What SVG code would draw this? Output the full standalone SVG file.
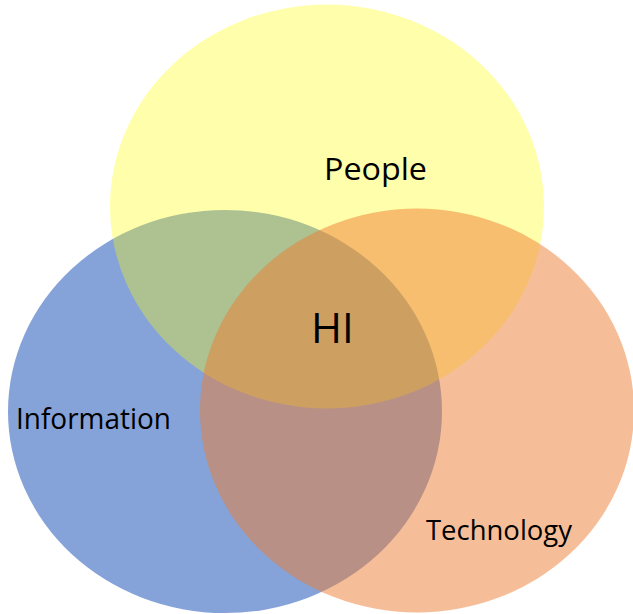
<svg xmlns="http://www.w3.org/2000/svg" width="633" height="614" viewBox="0 0 633 614">
  <style>
    .lbl { font-family: "Open Sans", "Liberation Sans", sans-serif; fill: #000; }
  </style>
  <rect width="633" height="614" fill="#fff"/>
  <!-- Three translucent sets: blue underneath, yellow over it, orange on top -->
  <g id="information">
    <ellipse cx="225" cy="411.5" rx="217" ry="201.5" fill="#4472C4" fill-opacity="0.65"/>
  </g>
  <g id="people">
    <ellipse cx="327" cy="206.5" rx="217" ry="202" fill="#FFFF00" fill-opacity="0.33"/>
  </g>
  <g id="technology">
    <ellipse cx="417" cy="410.5" rx="217" ry="202" fill="#ED7D31" fill-opacity="0.5"/>
  </g>
  <g id="labels">
    <text class="lbl" x="324" y="179.5" font-size="31.5" textLength="103" lengthAdjust="spacingAndGlyphs">People</text>
    <text class="lbl" x="16" y="428.5" font-size="28.5" textLength="155" lengthAdjust="spacingAndGlyphs">Information</text>
    <text class="lbl" x="426" y="539.5" font-size="27.5" textLength="146" lengthAdjust="spacingAndGlyphs">Technology</text>
    <text class="lbl" x="311" y="342.7" font-size="42">HI</text>
  </g>
</svg>
